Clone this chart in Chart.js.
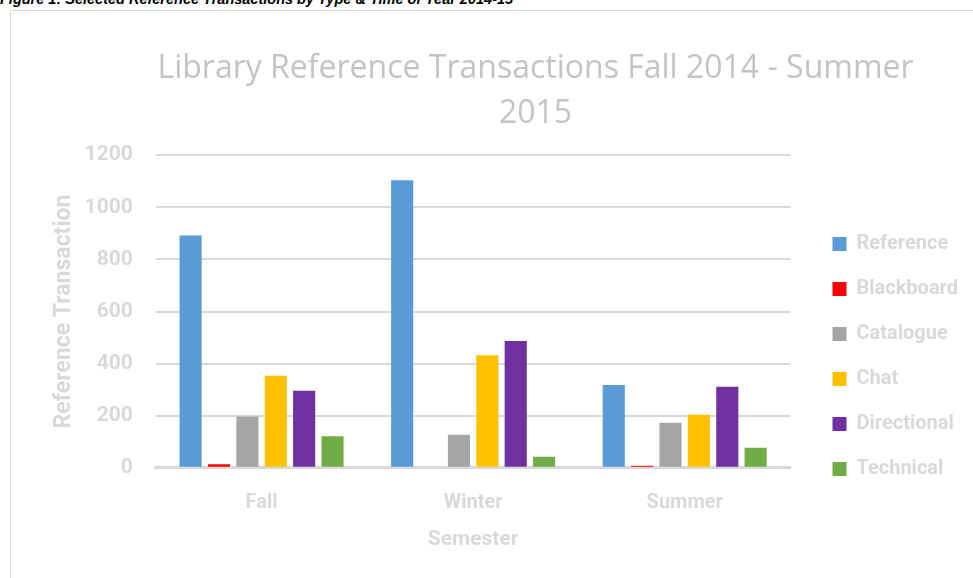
<!DOCTYPE html>
<html>
<head>
<meta charset="utf-8">
<script src="https://cdn.jsdelivr.net/npm/chart.js@4.4.1/dist/chart.umd.min.js"></script>
<style>
  body { margin: 0; background: #fff; overflow: hidden; }
  #caption {
    position: absolute; left: 0; top: -10px; white-space: nowrap;
    font: italic bold 14.5px "Liberation Sans Narrow", "Liberation Sans", sans-serif;
    line-height: 18px; color: #000;
  }
  #frame {
    position: absolute; left: 10px; top: 10px; width: 1100px; height: 600px;
    border: 1px solid #d9d9d9;
  }
  #wrap { position: absolute; left: 11px; top: 11px; width: 962px; height: 567px; }
</style>
</head>
<body>
<div id="caption">Figure 1: Selected Reference Transactions by Type &amp; Time of Year 2014-15</div>
<div id="frame"></div>
<div id="wrap"><canvas id="barChart" width="962" height="567"></canvas></div>
<script>
// semesters on the x axis
let semesters = ['Fall', 'Winter', 'Summer'];

// transactions per type, one value per semester
let reference = [892, 1104, 318];
let blackboard = [14, 0, 8];
let catalogue = [197, 127, 173];
let chat = [353, 432, 204];
let directional = [296, 487, 311];
let technical = [121, 42, 77];

let yTicks = [0, 200, 400, 600, 800, 1000, 1200];

const fontFam = 'Roboto, "Open Sans", sans-serif';
const lightGrey = '#d9d9d9';

function makeSet(label, data, color) {
  return {
    label: label,
    data: data,
    backgroundColor: color,
    borderWidth: 0,
    categoryPercentage: 0.805,
    barPercentage: 0.78
  };
}

// nudge title and legend the way the original sheet has them placed
const titleDx = 36;
const legendDx = 17;
const legendDy = 75;
const nudgeBoxes = {
  id: 'nudgeBoxes',
  afterLayout(chart) {
    const t = chart.titleBlock;
    t.left += titleDx;
    t.right += titleDx;
    const l = chart.legend;
    l.left += legendDx;
    l.right += legendDx;
    l.top += legendDy;
    l.bottom += legendDy;
  }
};

var ctx = document.getElementById('barChart').getContext('2d');
var barChart = new Chart(ctx, {
  type: 'bar',
  data: {
    labels: semesters,
    datasets: [
      makeSet('Reference', reference, '#5b9bd5'),
      makeSet('Blackboard', blackboard, '#ff0000'),
      makeSet('Catalogue', catalogue, '#a5a5a5'),
      makeSet('Chat', chat, '#ffc000'),
      makeSet('Directional', directional, '#7030a0'),
      makeSet('Technical', technical, '#70ad47')
    ]
  },
  options: {
    responsive: false,
    animation: false,
    layout: { padding: { left: 37, right: 22, top: 0, bottom: 26 } },
    plugins: {
      title: {
        display: true,
        text: ['Library Reference Transactions Fall 2014 - Summer', '2015'],
        color: '#c4c4c4',
        font: { family: '"Open Sans", sans-serif', size: 32, weight: 'normal', lineHeight: 1.41 },
        padding: { top: 35, bottom: 19 }
      },
      legend: {
        position: 'right',
        labels: {
          color: lightGrey,
          boxWidth: 14,
          boxHeight: 14,
          padding: 25,
          font: { family: fontFam, size: 20, weight: 'bold' }
        }
      },
      tooltip: { enabled: false }
    },
    scales: {
      x: {
        grid: { display: false },
        border: { display: true, color: lightGrey, width: 3 },
        ticks: { color: lightGrey, padding: 15, font: { family: fontFam, size: 20, weight: 'bold' } },
        title: {
          display: true,
          text: 'Semester',
          color: lightGrey,
          font: { family: fontFam, size: 21, weight: 'bold' },
          padding: { top: -3, bottom: 0 }
        }
      },
      y: {
        min: yTicks[0],
        max: yTicks[yTicks.length - 1],
        afterBuildTicks: (scale) => { scale.ticks = yTicks.map(v => ({ value: v })); },
        grid: { color: lightGrey, lineWidth: 2, drawTicks: false },
        border: { display: false },
        ticks: {
          color: lightGrey,
          padding: 23,
          font: { family: fontFam, size: 21, weight: 'bold' },
          callback: (v) => String(v)
        },
        title: {
          display: true,
          text: 'Reference Transaction',
          color: lightGrey,
          font: { family: fontFam, size: 23, weight: 'bold' },
          padding: { top: 2, bottom: -16 }
        }
      }
    }
  },
  plugins: [nudgeBoxes]
});
</script>
</body>
</html>
